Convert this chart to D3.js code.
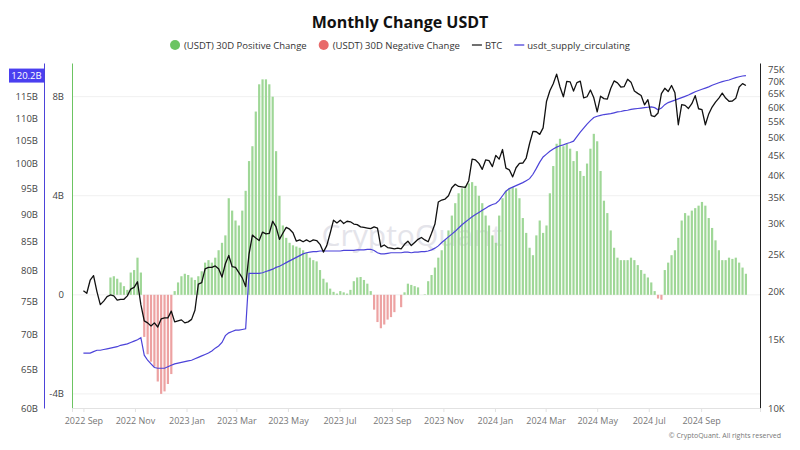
<!DOCTYPE html>
<html><head><meta charset="utf-8">
<script src="https://cdn.jsdelivr.net/npm/d3@7"></script>
<style>body{margin:0;background:#fff;} svg{display:block;font-family:"Open Sans","Noto Sans",sans-serif;}</style>
</head><body><svg id="c" width="800" height="450"></svg>
<script>
// ---- data (one value every 4 days, starting 2022-09-01) ----
const startDate = "2022-09-01";
const stepDays = 4;
// BTC price, thousand USD
const btcValues = [
 20.1,19.8,21.4,22.0,20.0,18.5,18.9,19.4,19.6,19.5,
 19.0,19.1,19.1,19.5,20.3,20.5,21.2,18.5,16.8,16.6,
 16.3,16.6,16.2,17.0,17.1,17.1,17.8,16.7,16.8,16.9,
 16.6,16.7,16.95,17.9,20.9,21.1,22.9,23.1,23.1,23.3,
 22.9,21.8,23.6,24.8,23.2,23.1,22.4,21.7,20.6,25.0,
 28.0,27.5,27.1,28.5,28.2,28.3,30.4,29.4,27.3,28.3,
 29.3,29.0,28.4,27.0,27.2,26.9,27.2,26.9,27.2,27.1,
 26.5,25.3,26.3,28.3,30.6,30.1,30.6,30.0,30.4,30.3,
 29.9,29.8,29.4,29.3,29.2,29.1,29.4,29.2,26.1,26.4,
 26.0,25.9,25.8,25.9,25.8,26.5,27.0,26.3,26.8,27.3,
 27.6,27.2,26.9,28.3,29.9,34.1,34.5,34.7,35.4,37.1,
 37.9,37.4,37.3,37.2,38.7,44.0,43.8,42.9,41.4,43.8,
 43.6,42.1,45.0,44.0,46.6,41.7,41.3,39.6,41.8,42.9,
 43.0,44.3,48.3,51.9,51.8,51.0,53.0,62.0,66.1,68.9,
 73.0,67.6,63.8,69.9,69.7,66.0,69.4,70.0,63.4,63.8,
 66.4,63.4,58.3,64.0,63.1,62.9,67.0,70.1,69.3,67.6,
 67.8,70.8,69.6,66.0,65.1,64.3,60.8,62.7,57.0,56.7,
 57.9,65.0,67.1,65.8,68.2,65.3,54.0,60.9,60.6,59.5,
 61.2,64.2,59.4,59.1,54.0,57.6,60.0,61.8,63.3,65.2,
 63.3,62.1,62.2,63.2,67.6,69.0,68.2];
// USDT circulating supply, billions
const supplyValues = [
 67.3,67.3,67.3,67.5,67.7,67.7,67.8,67.9,68.0,68.1,
 68.2,68.4,68.5,68.6,68.8,69.0,69.2,69.5,67.0,66.3,
 65.8,65.3,65.2,65.2,65.2,65.4,65.6,65.8,65.9,66.0,
 66.1,66.2,66.3,66.5,66.7,66.9,67.1,67.3,67.6,68.0,
 68.3,68.8,69.8,70.2,70.4,70.6,70.6,70.7,70.8,79.5,
 79.5,79.5,79.5,79.6,79.8,80.0,80.2,80.5,80.7,81.0,
 81.3,81.6,81.9,82.2,82.5,82.8,83.0,83.1,83.2,83.2,
 83.3,83.3,83.3,83.3,83.3,83.3,83.3,83.4,83.4,83.4,
 83.4,83.5,83.5,83.5,83.6,83.6,83.4,83.0,82.8,82.8,
 82.9,83.0,83.0,83.0,83.0,83.1,83.1,83.0,83.1,83.1,
 83.2,83.2,83.3,83.5,83.8,84.2,84.8,85.3,85.8,86.3,
 86.8,87.4,88.0,88.5,89.0,89.5,89.9,90.3,90.7,91.1,
 91.5,91.8,92.0,92.6,93.5,94.4,94.9,95.2,95.5,95.8,
 96.1,96.5,96.9,97.8,99.0,100.3,101.4,102.0,102.6,103.1,
 103.5,103.8,104.0,104.3,104.5,104.8,105.8,106.8,107.7,108.6,
 109.4,110.1,110.4,110.6,110.8,110.9,111.0,111.2,111.4,111.5,
 111.7,111.8,112.0,112.1,112.2,112.3,112.4,112.5,112.6,112.4,
 111.9,112.3,113.1,113.6,113.9,114.2,114.5,114.8,115.1,115.4,
 115.8,116.2,116.5,116.8,117.1,117.4,117.8,118.1,118.4,118.7,
 118.9,119.1,119.4,119.7,119.9,120.1,120.2];
// USDT 30-day change, billions
const changeValues = [
 null,null,null,null,null,null,null,null,0.7,0.75,
 0.65,0.5,0.35,0.2,0.9,1.0,1.5,0.9,-1.7,-2.4,
 -2.7,-2.9,-3.5,-4.0,-3.9,-3.6,-3.2,0.15,0.5,0.75,
 0.85,0.8,0.7,0.6,0.75,0.95,1.3,1.4,1.3,1.5,
 1.8,2.1,2.4,3.9,3.4,3.0,2.8,3.4,4.2,5.4,
 6.0,7.4,8.5,8.7,8.7,8.5,8.0,5.8,4.0,2.8,
 2.3,2.1,2.0,1.95,1.9,1.8,1.7,1.5,1.4,1.35,
 1.0,0.65,0.5,0.25,0.12,0.05,0.15,0.1,0.05,0.2,
 0.55,0.7,0.72,0.6,0.45,0.15,-0.6,-1.1,-1.35,-1.2,
 -1.0,-0.9,-0.7,0,-0.5,0.1,0.45,0.4,0.35,0.3,
 0,0.02,0.55,0.8,1.1,1.5,1.8,2.2,2.6,3.2,
 3.7,4.1,4.3,4.4,4.5,4.55,4.4,4.0,3.7,3.2,
 2.8,2.4,2.1,3.2,3.9,4.2,4.3,4.35,4.3,3.9,
 3.1,2.5,1.9,1.6,2.4,3.0,2.5,2.8,4.1,5.2,
 6.1,6.3,6.0,6.1,5.9,5.4,5.8,5.0,4.8,5.3,
 5.9,6.5,6.2,5.0,3.8,3.3,2.6,1.9,1.5,1.4,
 1.4,1.4,1.5,1.4,1.2,1.0,0.85,0.7,0.5,0.15,
 -0.15,-0.2,1.0,1.3,1.6,1.8,2.3,3.0,3.3,3.2,
 3.4,3.5,3.6,3.75,3.6,3.1,2.7,2.2,1.8,1.4,
 1.4,1.5,1.45,1.5,1.3,1.1,0.85];
const supplyTicks = [60,65,70,75,80,85,90,95,100,105,110,115];
const changeTicks = [-4,0,4,8];
const btcTicks = [10,15,20,25,30,35,40,45,50,55,60,65,70,75];
const xTickDates = ["2022-09-01","2022-11-01","2023-01-01","2023-03-01","2023-05-01","2023-07-01","2023-09-01","2023-11-01","2024-01-01","2024-03-01","2024-05-01","2024-07-01","2024-09-01"];
const legendLabels = ["(USDT) 30D Positive Change","(USDT) 30D Negative Change","BTC","usdt_supply_circulating"];
const titleText = "Monthly Change USDT";

// ---- layout ----
const L=72,R=760,T=63,B=408;
const colPos="#9fd797", colNeg="#eda2a2", colPosLeg="#6cc462", colNegLeg="#e86b6b", colSupply="#4c43d9";
const svg=d3.select("#c");
const parse=d3.utcParse("%Y-%m-%d");
const t0=parse(startDate);
const dates=btcValues.map((_,i)=>d3.utcDay.offset(t0,i*stepDays));

const x=d3.scaleUtc().domain([new Date(Date.UTC(2022,7,18,12)),new Date(Date.UTC(2024,10,9,16))]).range([L,R]);
const ySup=d3.scaleLog().domain([60,123.4]).range([B,T]);
const yChg=d3.scaleLinear().domain([-4.57,9.36]).range([B,T]);
const yBtc=d3.scaleLog().domain([10,78]).range([B,T]);

// gridlines
svg.append("g").selectAll("line").data(changeTicks).join("line")
  .attr("x1",L).attr("x2",R).attr("y1",d=>yChg(d)).attr("y2",d=>yChg(d))
  .attr("stroke","#f0f0f0").attr("stroke-width",1);

// watermark
svg.append("text").attr("x",412).attr("y",246).attr("text-anchor","middle")
  .attr("font-size",30).attr("fill","#e4e4ea").attr("font-weight",500).text("CryptoQuant");

// bars
const step=x(dates[1])-x(dates[0]);
const bw=step*0.65;
svg.append("g").selectAll("rect").data(changeValues.map((v,i)=>({v,d:dates[i]})).filter(o=>o.v!==null))
  .join("rect")
  .attr("x",o=>x(o.d)-bw/2).attr("width",bw)
  .attr("y",o=>Math.min(yChg(o.v),yChg(0))).attr("height",o=>Math.abs(yChg(o.v)-yChg(0)))
  .attr("fill",o=>o.v>=0?colPos:colNeg);

// lines
svg.append("path").datum(supplyValues).attr("fill","none").attr("stroke",colSupply).attr("stroke-width",1.2)
  .attr("d",d3.line().x((v,i)=>x(dates[i])).y(v=>ySup(v)));
svg.append("path").datum(btcValues).attr("fill","none").attr("stroke","#111").attr("stroke-width",1.3)
  .attr("stroke-linejoin","round")
  .attr("d",d3.line().x((v,i)=>x(dates[i])).y(v=>yBtc(v)));

// axes
const axSup=svg.append("g").attr("transform",`translate(44,0)`)
  .call(d3.axisLeft(ySup).tickValues(supplyTicks).tickFormat(d=>d+"B").tickSize(0).tickPadding(6));
axSup.select(".domain").attr("stroke",colSupply);
const axChg=svg.append("g").attr("transform",`translate(${L},0)`)
  .call(d3.axisLeft(yChg).tickValues(changeTicks).tickFormat(d=>d===0?"0":d+"B").tickSize(0).tickPadding(8));
axChg.select(".domain").attr("stroke",colPosLeg);
const axBtc=svg.append("g").attr("transform",`translate(${R},0)`)
  .call(d3.axisRight(yBtc).tickValues(btcTicks).tickFormat(d=>d+"K").tickSize(0).tickPadding(8));
axBtc.select(".domain").attr("stroke","#222");
const axX=svg.append("g").attr("transform",`translate(0,${B})`)
  .call(d3.axisBottom(x).tickValues(xTickDates.map(parse)).tickFormat(d3.utcFormat("%Y %b")).tickSize(4).tickPadding(6));
axX.select(".domain").attr("stroke","#e2e2e2");
axX.selectAll(".tick line").attr("stroke","#e2e2e2");
svg.selectAll(".tick text").attr("font-size",9.5).attr("fill","#444").attr("font-family","'Open Sans',sans-serif");
axX.selectAll(".tick text").attr("fill","#777").attr("font-size",9);

// current supply marker
const lastSup=supplyValues[supplyValues.length-1];
svg.append("rect").attr("x",9).attr("y",ySup(lastSup)-7).attr("width",35).attr("height",14).attr("fill","#4a3ff0");
svg.append("text").attr("x",26.5).attr("y",ySup(lastSup)+3.5).attr("text-anchor","middle")
  .attr("font-size",9.5).attr("fill","#fff").text(lastSup.toFixed(1)+"B");

// title
svg.append("text").attr("x",400).attr("y",28).attr("text-anchor","middle")
  .attr("font-size",16).attr("font-weight",700).attr("fill","#111").text(titleText);

// legend
const lg=svg.append("g");
let cx=0;
legendLabels.forEach((lab,i)=>{
  const g=lg.append("g").attr("transform",`translate(${cx},0)`);
  let sw;
  if(i<2){ g.append("circle").attr("cx",5).attr("cy",0).attr("r",5).attr("fill",i===0?colPosLeg:colNegLeg); sw=14; }
  else { g.append("line").attr("x1",0).attr("x2",10).attr("y1",0).attr("y2",0).attr("stroke",i===2?"#222":colSupply).attr("stroke-width",1.3); sw=13; }
  const t=g.append("text").attr("x",sw).attr("y",3.5).attr("font-size",9.5).attr("fill","#333").text(lab);
  cx+=sw+t.node().getComputedTextLength()+12;
});
const lw=cx-12;
lg.attr("transform",`translate(${400-lw/2},45)`);

// copyright
svg.append("text").attr("x",781).attr("y",438).attr("text-anchor","end").attr("font-size",7).attr("fill","#777")
  .text("© CryptoQuant. All rights reserved");
</script></body></html>
